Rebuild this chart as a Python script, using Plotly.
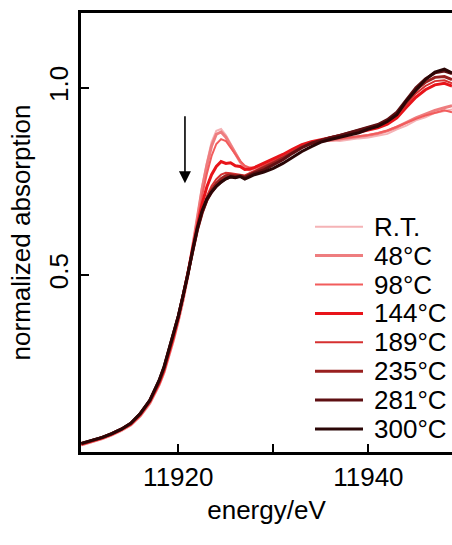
import plotly.graph_objects as go

# energy grid (eV) shared by all spectra
energy = [11909.8, 11911, 11912, 11913, 11914, 11915, 11916, 11917, 11918, 11918.5,
          11919, 11919.5, 11920, 11920.5, 11921, 11921.5, 11922, 11922.5, 11923, 11923.5,
          11924, 11924.5, 11925, 11925.5, 11926, 11926.5, 11927, 11927.5, 11928, 11929,
          11930, 11931, 11932, 11933, 11934, 11935, 11936, 11937, 11938, 11939,
          11940, 11941, 11942, 11943, 11944, 11945, 11946, 11947, 11948, 11948.8]

labels = ["R.T.", "48°C", "98°C", "144°C", "189°C", "235°C", "281°C", "300°C"]

mu_rt = [0.045, 0.054, 0.062, 0.072, 0.083, 0.098, 0.122, 0.155, 0.205, 0.238,
         0.280, 0.325, 0.375, 0.430, 0.495, 0.575, 0.660, 0.735, 0.800, 0.855,
         0.885, 0.890, 0.874, 0.850, 0.828, 0.805, 0.788, 0.782, 0.786, 0.791,
         0.806, 0.814, 0.833, 0.844, 0.853, 0.855, 0.859, 0.858, 0.862, 0.865,
         0.867, 0.873, 0.877, 0.889, 0.899, 0.913, 0.921, 0.933, 0.937, 0.942]
mu_48 = [0.046, 0.055, 0.063, 0.073, 0.085, 0.100, 0.124, 0.158, 0.208, 0.241,
         0.283, 0.328, 0.378, 0.433, 0.497, 0.572, 0.655, 0.730, 0.792, 0.845,
         0.876, 0.882, 0.868, 0.846, 0.824, 0.803, 0.787, 0.781, 0.786, 0.795,
         0.808, 0.818, 0.834, 0.846, 0.853, 0.858, 0.860, 0.863, 0.866, 0.869,
         0.873, 0.878, 0.885, 0.895, 0.908, 0.920, 0.930, 0.940, 0.947, 0.952]
mu_98 = [0.047, 0.056, 0.064, 0.074, 0.086, 0.101, 0.126, 0.160, 0.210, 0.244,
         0.286, 0.331, 0.381, 0.436, 0.499, 0.570, 0.645, 0.712, 0.770, 0.818,
         0.850, 0.863, 0.858, 0.842, 0.823, 0.805, 0.792, 0.787, 0.788, 0.797,
         0.810, 0.820, 0.834, 0.845, 0.852, 0.857, 0.861, 0.864, 0.868, 0.871,
         0.874, 0.879, 0.886, 0.896, 0.907, 0.917, 0.926, 0.934, 0.940, 0.935]
mu_144 = [0.048, 0.057, 0.065, 0.075, 0.087, 0.102, 0.127, 0.162, 0.213, 0.247,
          0.290, 0.336, 0.386, 0.441, 0.503, 0.570, 0.635, 0.690, 0.735, 0.768,
          0.790, 0.803, 0.798, 0.800, 0.792, 0.790, 0.782, 0.783, 0.787, 0.798,
          0.810, 0.822, 0.836, 0.848, 0.856, 0.862, 0.867, 0.872, 0.876, 0.881,
          0.887, 0.893, 0.903, 0.920, 0.948, 0.975, 0.995, 1.008, 1.012, 1.005]
mu_189 = [0.049, 0.057, 0.065, 0.075, 0.087, 0.103, 0.128, 0.163, 0.215, 0.250,
          0.293, 0.339, 0.388, 0.443, 0.503, 0.566, 0.625, 0.672, 0.710, 0.738,
          0.756, 0.768, 0.773, 0.772, 0.770, 0.768, 0.766, 0.772, 0.778, 0.790,
          0.804, 0.816, 0.830, 0.843, 0.852, 0.860, 0.866, 0.872, 0.878, 0.884,
          0.891, 0.898, 0.909, 0.926, 0.955, 0.985, 1.005, 1.018, 1.020, 1.012]
mu_235 = [0.049, 0.058, 0.066, 0.076, 0.088, 0.103, 0.129, 0.164, 0.217, 0.252,
          0.296, 0.341, 0.389, 0.444, 0.501, 0.563, 0.620, 0.665, 0.700, 0.727,
          0.745, 0.757, 0.765, 0.767, 0.765, 0.766, 0.762, 0.768, 0.774, 0.785,
          0.799, 0.812, 0.828, 0.842, 0.852, 0.860, 0.867, 0.873, 0.880, 0.886,
          0.893, 0.900, 0.912, 0.930, 0.962, 0.995, 1.015, 1.028, 1.030, 1.022]
mu_281 = [0.050, 0.058, 0.066, 0.076, 0.088, 0.104, 0.130, 0.165, 0.219, 0.254,
          0.298, 0.343, 0.390, 0.444, 0.500, 0.563, 0.622, 0.668, 0.700, 0.721,
          0.737, 0.749, 0.757, 0.763, 0.762, 0.764, 0.760, 0.766, 0.772, 0.781,
          0.794, 0.808, 0.825, 0.840, 0.852, 0.860, 0.867, 0.873, 0.880, 0.887,
          0.894, 0.902, 0.915, 0.935, 0.968, 1.000, 1.024, 1.040, 1.045, 1.038]
mu_300 = [0.050, 0.058, 0.066, 0.076, 0.088, 0.104, 0.130, 0.165, 0.220, 0.255,
          0.300, 0.345, 0.390, 0.445, 0.500, 0.565, 0.625, 0.672, 0.703, 0.722,
          0.737, 0.748, 0.757, 0.762, 0.760, 0.763, 0.756, 0.762, 0.768, 0.775,
          0.785, 0.798, 0.815, 0.830, 0.843, 0.855, 0.862, 0.868, 0.874, 0.880,
          0.890, 0.897, 0.910, 0.928, 0.965, 0.995, 1.022, 1.042, 1.050, 1.040]

series = [mu_rt, mu_48, mu_98, mu_144, mu_189, mu_235, mu_281, mu_300]
colors = ["#F5B3B6", "#EE7D7F", "#F25C5C", "#E8141A", "#D63030", "#99201F", "#5E0F12", "#2A0606"]
widths = [2, 3, 2, 3, 2, 3, 3, 3]

FONT = "Liberation Sans, Arial, sans-serif"
title_font = dict(family=FONT, size=26, color="black")

fig = go.Figure()
for name, y, c, w in zip(labels, series, colors, widths):
    fig.add_trace(go.Scatter(x=energy, y=y, mode="lines", name=name,
                             line=dict(color=c, width=w), showlegend=False))

# hand-made legend (long line samples, tight rows like the original)
L, R, T, B = 81, 452, 13, 452
shapes = []
annotations = []
for i, (name, c, w) in enumerate(zip(labels, colors, widths)):
    ypx = 226.7 + 28.9 * i
    yp = (B - ypx) / (B - T)
    shapes.append(dict(type="line", xref="paper", yref="paper",
                       x0=(315 - L) / (R - L), x1=(363 - L) / (R - L), y0=yp, y1=yp,
                       line=dict(color=c, width=w)))
    annotations.append(dict(xref="paper", yref="paper", x=(372 - L) / (R - L), y=yp,
                            text=name, showarrow=False, xanchor="left", yanchor="middle",
                            font=dict(family=FONT, size=26, color="black")))

# arrow marking the decreasing white line
annotations.append(dict(x=11920.7, y=0.745, ax=11920.7, ay=0.928, xref="x", yref="y",
                        axref="x", ayref="y", showarrow=True, arrowhead=2,
                        arrowsize=1.5, arrowwidth=1.6, arrowcolor="black", text=""))

fig.update_layout(
    width=452, height=545,
    margin=dict(l=L, r=0, t=T, b=545 - B),
    paper_bgcolor="white", plot_bgcolor="white",
    font=dict(family=FONT, size=26, color="black"),
    shapes=shapes, annotations=annotations,
    xaxis=dict(range=[11909.76, 11948.8], tickvals=[11920, 11930, 11940],
               ticktext=["11920", "", "11940"], ticks="inside", ticklen=8, tickwidth=2,
               tickcolor="black", showline=True, linewidth=2.5, linecolor="black",
               mirror=True, showgrid=False, zeroline=False,
               tickfont=dict(family=FONT, size=26, color="black"),
               title=dict(text="energy/eV", standoff=10, font=title_font)),
    yaxis=dict(range=[0.027, 1.2], tickvals=[0.5, 1.0], ticktext=["0.5", "1.0"],
               tickangle=-90, ticks="inside", ticklen=8, tickwidth=2, tickcolor="black",
               showline=True, linewidth=2.5, linecolor="black", showgrid=False,
               zeroline=False, tickfont=dict(family=FONT, size=26, color="black"),
               title=dict(text="normalized absorption", standoff=6, font=title_font)),
)

fig.write_html("out.html", config={"displayModeBar": False},
               post_script="document.body.style.margin='0';document.body.style.overflow='hidden';")
